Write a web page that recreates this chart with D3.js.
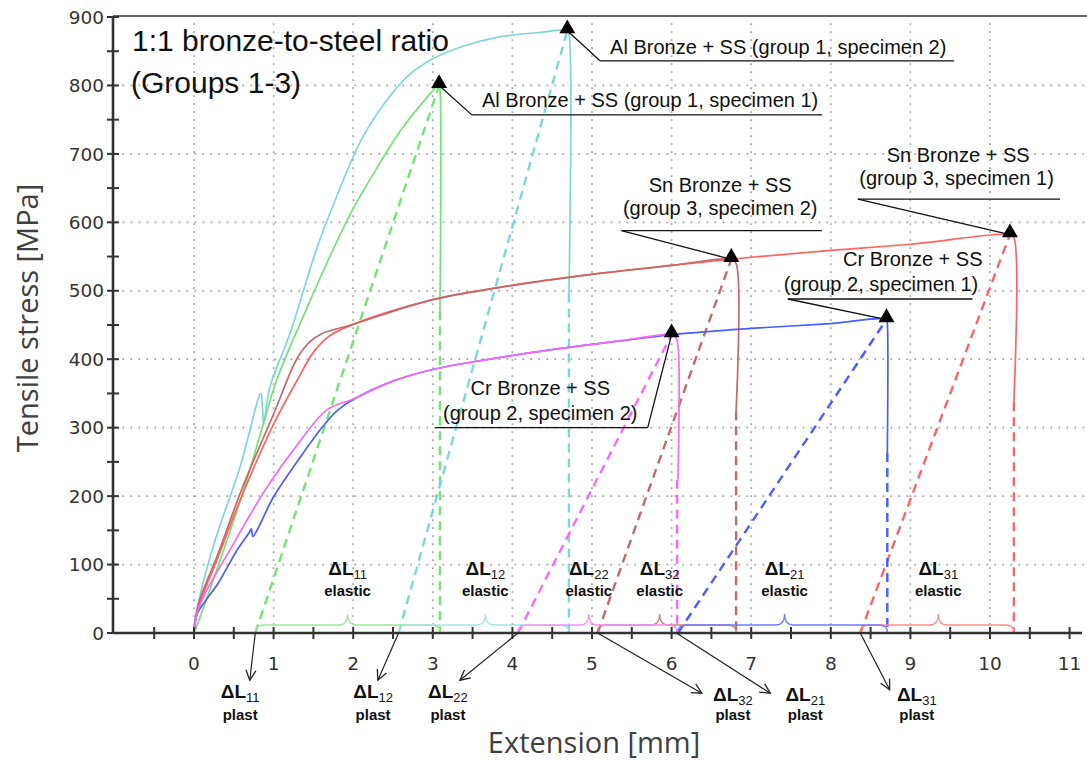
<!DOCTYPE html>
<html><head><meta charset="utf-8">
<script src="https://cdn.jsdelivr.net/npm/d3@7"></script>
<style>body{margin:0;background:#fff}svg{display:block}</style>
</head><body>
<svg id="chart" width="1087" height="764"></svg>
<script>
// ---------- data ----------
const xTickValues = [0,1,2,3,4,5,6,7,8,9,10,11];
const yTickValues = [0,100,200,300,400,500,600,700,800,900];

// stress-extension curves: [extension mm, stress MPa]
const curveAl1 = [[0,0],[0.05,15],[0.25,80],[0.6,200],[0.87,305],[1.04,370],[1.4,470],[1.75,561],[2.0,620],[2.3,680],[2.6,735],[2.85,772],[3.08,800],[3.09,795],[3.09,470]];
const curveAl2 = [[0,0],[0.03,30],[0.24,126],[0.58,243],[0.84,350],[0.86,330],[0.875,305],[0.95,358],[1.21,439],[1.54,561],[1.8,640],[2.1,720],[2.4,775],[2.7,815],[3.0,839],[3.4,858],[3.84,871],[4.3,877],[4.69,880],[4.71,876],[4.71,496]];
const curveSn1 = [[0,0],[0.05,35],[0.3,110],[0.6,200],[1.0,305],[1.3,370],[1.5,410],[1.7,434],[2.0,451],[3,487],[4,508],[5,524],[6,537],[7,549],[8,559],[9,568],[10.25,582],[10.3,578],[10.3,337]];
const curveSn2 = [[0,0],[0.05,40],[0.3,115],[0.6,210],[1.0,320],[1.29,400],[1.45,425],[1.6,437],[2.0,451],[3,487],[4,508],[5,524],[6,537],[6.75,546],[6.81,540],[6.81,324]];
const curveCr1 = [[0,0],[0.04,28],[0.15,48],[0.3,72],[0.54,121],[0.70,148],[0.72,152],[0.74,141],[0.8,152],[1.0,199],[1.33,256],[1.62,302],[1.8,325],[2.0,341],[2.5,368],[3,385],[3.6,398],[4.5,414],[5.3,426],[6,436],[7,445],[8,452],[8.7,458],[8.71,452],[8.71,263]];
const curveCr2 = [[0,0],[0.04,30],[0.15,60],[0.45,121],[0.9,210],[1.33,280],[1.67,326],[2.0,342],[2.5,368],[3,385],[3.6,398],[4.5,414],[5.3,426],[6.0,436],[6.05,433],[6.08,420],[6.08,224]];

const seriesKeys   = ["Al1","Al2","Sn1","Sn2","Cr1","Cr2"];
const peakX        = [3.08,4.69,10.25,6.75,8.70,6.00];
const peakY        = [800,880,582,546,458,436];
const plastBase    = [0.77,2.57,8.37,5.07,6.08,4.07];
const fractureX    = [3.09,4.71,10.30,6.81,8.71,6.07];
const dropEndY     = [470,496,337,324,263,224];
const braceTipX    = [1.93,3.66,9.35,5.85,7.42,4.96];
const deltaSub     = ["11","12","31","32","21","22"];
const plastArrowX0 = [0.77,2.57,8.37,5.07,6.06,4.07];
const plastArrowX1 = [0.70,2.31,8.74,6.38,7.24,3.34];
const plastArrowY1 = [-69,-69,-83,-88,-88,-69];
const plastLabelX  = [0.58,2.25,9.08,6.77,7.68,3.19];
const plastRow     = [0,0,1,1,1,0];

const colors      = ["#74e274","#7fd6d8","#ff6464","#c46868","#4c5cff","#f76af7"];
const braceColors = ["#9ee89e","#a6e2e4","#ff8c8c","#c98080","#6e7cff","#f98ef9"];

// callouts (data units), same order as seriesKeys
const calloutLines = [
  ["Al Bronze + SS (group 1, specimen 1)"],
  ["Al Bronze + SS (group 1, specimen 2)"],
  ["Sn Bronze + SS","(group 3, specimen 1)"],
  ["Sn Bronze + SS","(group 3, specimen 2)"],
  ["Cr Bronze + SS","(group 2, specimen 1)"],
  ["Cr Bronze + SS","(group 2, specimen 2)"]
];
const calloutLineX  = [[5.73],[7.34],[9.6,9.58],[6.61,6.61],[9.03,8.63],[4.35,4.35]];
const calloutLineY  = [[768],[846],[688,654],[644,610],[536,499],[347,311]];
const underlineX0   = [3.49,5.10,8.34,5.37,7.46,3.03];
const underlineX1   = [7.89,9.55,10.88,7.89,9.78,5.70];
const underlineY    = [757,836,634,588,488,300];
const leaderFromEnd = ["left","left","left","left","left","right"];

// ---------- chart ----------
const svg = d3.select("#chart");
const x = d3.scaleLinear().domain([-1,11]).range([114.4,1069.6]);
const y = d3.scaleLinear().domain([0,900]).range([633,17]);
const sansN = "'Liberation Sans',Arial,sans-serif";
const tickFont = "'DejaVu Sans',Verdana,sans-serif";
const titleFont = "'Open Sans','Noto Sans',sans-serif";

// grid
const grid = svg.append("g").attr("stroke","#a8a8a8").attr("stroke-width",1.8).attr("stroke-dasharray","1.8,6.2");
grid.selectAll(".gx").data(xTickValues.filter(v=>v<=10)).join("line")
  .attr("x1",d=>x(d)).attr("x2",d=>x(d)).attr("y1",y(0)).attr("y2",y(900));
grid.selectAll(".gy").data(yTickValues.filter(v=>v>0&&v<900)).join("line")
  .attr("x1",x(-1)).attr("x2",1085).attr("y1",d=>y(d)).attr("y2",d=>y(d));

// dashed unloading lines
const dashG = svg.append("g").attr("fill","none").attr("stroke-width",2.4).attr("stroke-dasharray","9,6");
seriesKeys.forEach((k,i)=>{
  dashG.append("line").attr("stroke",colors[i])
    .attr("x1",x(plastBase[i])).attr("y1",y(0)).attr("x2",x(peakX[i])).attr("y2",y(peakY[i]));
  dashG.append("line").attr("stroke",colors[i])
    .attr("x1",x(fractureX[i])).attr("y1",y(dropEndY[i])).attr("x2",x(fractureX[i])).attr("y2",y(0));
});

// braces
function bracePath(x1,x2,xm){
  const yb=y(0)-1, yB=y(0)-8, yT=y(0)-19, r=9;
  return `M${x1},${yb} Q${x1},${yB} ${x1+r},${yB} L${xm-r},${yB} Q${xm},${yB} ${xm},${yT} Q${xm},${yB} ${xm+r},${yB} L${x2-r},${yB} Q${x2},${yB} ${x2},${yb}`;
}
seriesKeys.forEach((k,i)=>{
  svg.append("path").attr("fill","none").attr("stroke",braceColors[i]).attr("stroke-width",1.3)
    .attr("d",bracePath(x(plastBase[i]),x(fractureX[i]),x(braceTipX[i])));
});

// curves
const curves = [curveAl1,curveAl2,curveSn1,curveSn2,curveCr1,curveCr2];
const line = d3.line().x(d=>x(d[0])).y(d=>y(d[1])).curve(d3.curveCatmullRom.alpha(0.5));
[1,0,2,3,4,5].forEach(i=>{
  svg.append("path").datum(curves[i]).attr("fill","none").attr("stroke",colors[i])
    .attr("stroke-width",1.7).attr("stroke-linejoin","round").attr("d",line);
});

// axes
const axG = svg.append("g").attr("stroke","#333");
axG.append("line").attr("x1",x(-1)-1).attr("x2",1082).attr("y1",y(0)).attr("y2",y(0)).attr("stroke-width",2.6);
axG.append("line").attr("x1",113).attr("x2",113).attr("y1",16).attr("y2",y(0)+1).attr("stroke-width",2.6);
axG.append("line").attr("x1",113).attr("x2",1087).attr("y1",16).attr("y2",16).attr("stroke-width",1.6);
const halfX = d3.range(-0.5,11.01,0.5);
axG.selectAll(".tx").data(halfX).join("line").attr("stroke-width",2)
  .attr("x1",d=>x(d)).attr("x2",d=>x(d)).attr("y1",y(0)-6).attr("y2",y(0)+6);
const halfY = d3.range(0,901,50);
axG.selectAll(".ty").data(halfY).join("line").attr("stroke-width",2)
  .attr("x1",107).attr("x2",119).attr("y1",d=>y(d)).attr("y2",d=>y(d));

svg.append("g").selectAll("text").data(xTickValues).join("text")
  .attr("x",d=>x(d)).attr("y",670).attr("text-anchor","middle")
  .attr("font-family",tickFont).attr("font-size",18.5).attr("fill","#333")
  .text(d=>d);
svg.append("g").selectAll("text").data(yTickValues).join("text")
  .attr("x",104).attr("y",d=>y(d)).attr("dy","0.36em").attr("text-anchor","end")
  .attr("font-family",tickFont).attr("font-size",18.5).attr("fill","#333")
  .text(d=>d);

// axis titles
svg.append("text").attr("x",594).attr("y",753).attr("text-anchor","middle")
  .attr("font-family",titleFont).attr("font-size",29).attr("fill","#404040").text("Extension [mm]");
svg.append("text").attr("transform","translate(38,318) rotate(-90)").attr("text-anchor","middle")
  .attr("font-family",titleFont).attr("font-size",29).attr("fill","#404040").text("Tensile stress [MPa]");

// title
const title = svg.append("text").attr("font-family",sansN).attr("font-size",30).attr("fill","#111");
title.append("tspan").attr("x",132).attr("y",51).text("1:1 bronze-to-steel ratio");
title.append("tspan").attr("x",131).attr("y",93).text("(Groups 1-3)");

// elastic labels
seriesKeys.forEach((k,i)=>{
  const t = svg.append("text").attr("x",x(braceTipX[i])).attr("y",575).attr("text-anchor","middle")
    .attr("font-family",sansN).attr("fill","#111");
  t.append("tspan").attr("font-size",19).attr("font-weight",700).text("ΔL");
  t.append("tspan").attr("font-size",13).attr("dy",4).text(deltaSub[i]);
  svg.append("text").attr("x",x(braceTipX[i])).attr("y",596).attr("text-anchor","middle")
    .attr("font-family",sansN).attr("font-size",15).attr("font-weight",700).attr("fill","#111").text("elastic");
});

// plast labels + arrows
const defs = svg.append("defs");
defs.append("marker").attr("id","arr").attr("viewBox","0 0 12 12").attr("refX",11).attr("refY",6)
  .attr("markerWidth",12).attr("markerHeight",12).attr("markerUnits","userSpaceOnUse").attr("orient","auto")
  .append("path").attr("d","M1,1 L11,6 L1,11").attr("fill","none").attr("stroke","#222").attr("stroke-width",1.3);
seriesKeys.forEach((k,i)=>{
  svg.append("line").attr("stroke","#222").attr("stroke-width",1.2)
    .attr("x1",x(plastArrowX0[i])).attr("y1",y(0)).attr("x2",x(plastArrowX1[i])).attr("y2",y(plastArrowY1[i]))
    .attr("marker-end","url(#arr)");
  const by = plastRow[i] ? 701 : 698;
  const t = svg.append("text").attr("x",x(plastLabelX[i])).attr("y",by).attr("text-anchor","middle")
    .attr("font-family",sansN).attr("fill","#111");
  t.append("tspan").attr("font-size",19).attr("font-weight",700).text("ΔL");
  t.append("tspan").attr("font-size",13).attr("dy",4).text(deltaSub[i]);
  svg.append("text").attr("x",x(plastLabelX[i])).attr("y",720).attr("text-anchor","middle")
    .attr("font-family",sansN).attr("font-size",15).attr("font-weight",700).attr("fill","#111").text("plast");
});

// callouts
seriesKeys.forEach((k,i)=>{
  const ux0=x(underlineX0[i]), ux1=x(underlineX1[i]), uy=y(underlineY[i]);
  const lx = leaderFromEnd[i]==="left" ? ux0 : ux1;
  svg.append("line").attr("stroke","#111").attr("stroke-width",1.3)
    .attr("x1",lx).attr("y1",uy).attr("x2",x(peakX[i])).attr("y2",y(peakY[i]));
  svg.append("line").attr("stroke","#111").attr("stroke-width",1.3)
    .attr("x1",ux0).attr("y1",uy).attr("x2",ux1).attr("y2",uy);
  calloutLines[i].forEach((s,j)=>{
    svg.append("text").attr("x",x(calloutLineX[i][j])).attr("y",y(calloutLineY[i][j]))
      .attr("text-anchor","middle").attr("font-family",sansN).attr("font-size",20).attr("fill","#111").text(s);
  });
});

// peak markers
svg.append("g").selectAll("path").data(seriesKeys.map((k,i)=>[peakX[i],peakY[i]])).join("path")
  .attr("transform",d=>`translate(${x(d[0])},${y(d[1])-2})`)
  .attr("d",d3.symbol(d3.symbolTriangle,110)).attr("fill","#000");
</script>
</body></html>
